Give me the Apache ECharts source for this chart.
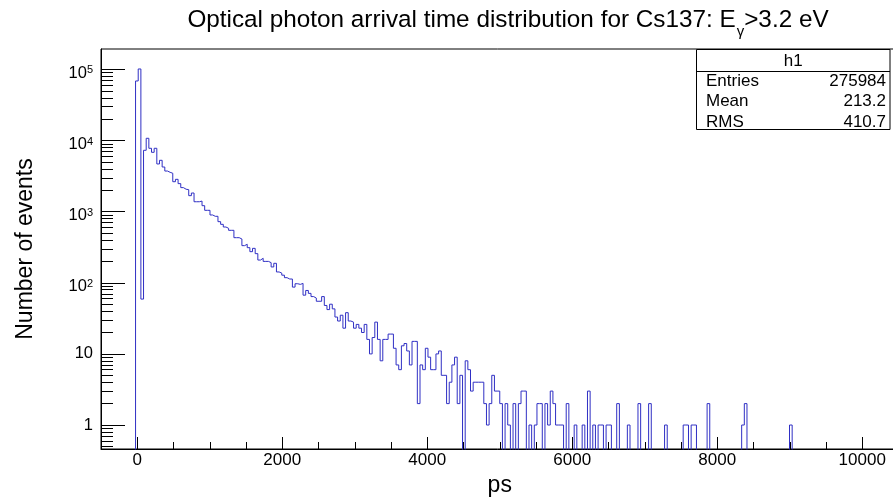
<!DOCTYPE html>
<html><head><meta charset="utf-8">
<script src="https://cdn.jsdelivr.net/npm/echarts@6/dist/echarts.min.js"></script>
<style>html,body{margin:0;padding:0;background:#fff}#c{width:893px;height:499px}</style>
</head><body><div id="c"></div>
<script>
// Histogram definition (ROOT TH1: 300 bins over [-500, 10500] ps)
const histMin = -500, histMax = 10500, nBins = 300;
const firstBin = 13;           // index of first bin listed in counts
const counts = [
 68900,101600,59,7300,10770,7790,6840,7790,4690,5280,
 4250,3730,3580,3470,2640,2850,2480,2180,2070,2040,
 1680,1830,1380,1380,1410,1215,1045,1045,899,861,
 861,724,664,609,584,547,547,431,431,413,
 333,348,312,274,305,257,209,221,200,200,
 192,167,188,142,137,128,118,113,113,87,
 97,95,98,67,78,71,64,61,55,55,
 64,48,42,50,43,33,29,35,23,38,
 29,28,23,26,23,20,26,16,10,17,
 28,16,8,16,16,19,19,12,7,6,
 13,14,11,7,15,15,2,7,6,12,
 9,6,6,10,11,5,5,2,4,7,
 9,2,5,0,8,6,3,4,4,4,
 4,2,1,2,5,3,3,2,0,2,
 1,0,2,0,2,3,3,0,1,0,
 1,2,2,0,2,1,3,2,1,1,
 1,0,2,0,0,1,0,0,1,0,
 3,0,1,0,1,1,0,1,1,0,
 0,2,0,0,0,1,0,0,0,2,
 0,0,0,2,0,0,0,0,0,1,
 0,0,0,0,0,0,1,1,0,1,
 1,0,0,0,0,2,0,0,0,0,
 0,0,0,0,0,0,0,0,1,2,
 0,0,0,0,0,0,0,0,0,0,
 0,0,0,0,0,0,1
];
const xMajorTicks = [0,2000,4000,6000,8000,10000];
const xMinorTicks = [500,1000,1500,2500,3000,3500,4500,5000,5500,6500,7000,7500,8500,9000,9500];
const yMin = 0.46, yMax = 194000;
const yMajorTicks = [1,10,100,1000,10000,100000];
const yMinorTicks = [];
[0.1,1,10,100,1000,10000].forEach(d => { for (let k=2;k<=9;k++){ const v=+(k*d).toPrecision(3); if (v>yMin && v<yMax) yMinorTicks.push(v);} });
const titleMain = 'Optical photon arrival time distribution for Cs137: E';
const titleSub = 'γ';
const titleEnd = '>3.2 eV';
const xTitle = 'ps', yTitle = 'Number of events';
const statsName = 'h1';
const statsLabels = ['Entries','Mean','RMS'];
const statsValues = ['275984','213.2','410.7'];

const FF = '"Liberation Sans", Arial, Helvetica, sans-serif';
const binW = (histMax - histMin) / nBins;
const zeroLevel = yMin / 10;
const pts = [[histMin + firstBin*binW, zeroLevel]];
counts.forEach((c,i) => pts.push([histMin + (firstBin+i)*binW, c > 0 ? c : zeroLevel]));
pts.push([histMin + (firstBin+counts.length)*binW, zeroLevel]);

const chart = echarts.init(document.getElementById('c'), null, {renderer:'canvas'});
const gridL = 101, gridT = 49, gridB = 449, pxPerPs = 0.0725;
const gridRightEdge = gridL + (histMax - histMin) * pxPerPs;

const statsX = 696.5, statsY = 49.5, statsW = 193.5, statsH = 80;
const graphic = [
  {type:'text', x: 508, y: 20, z: 10, style:{
    text: '{t|'+titleMain+'}{g|'+titleSub+'}{t|'+titleEnd+'}',
    align:'center', verticalAlign:'middle', fill:'#000',
    rich:{ t:{fontSize:24.3, fontFamily:FF, fill:'#000'}, g:{fontSize:15, fontFamily:FF, fill:'#000', padding:[24,0,0,1]} }
  }},
  {type:'rect', z: 50, shape:{x:statsX, y:statsY, width:statsW, height:statsH}, style:{fill:'#fff', stroke:'#000', lineWidth:1}},
  {type:'line', z: 51, shape:{x1:statsX, y1:71.5, x2:statsX+statsW, y2:71.5}, style:{stroke:'#000', lineWidth:1}},
  {type:'text', z: 52, x: statsX + statsW/2, y: 61, style:{text: statsName, align:'center', verticalAlign:'middle', fontSize:17, fontFamily:FF, fill:'#000'}}
];
statsLabels.forEach((l,i) => {
  graphic.push({type:'text', z:52, x: 706, y: 81 + i*20.5, style:{text:l, align:'left', verticalAlign:'middle', fontSize:17, fontFamily:FF, fill:'#000'}});
  graphic.push({type:'text', z:52, x: 886, y: 81 + i*20.5, style:{text:statsValues[i], align:'right', verticalAlign:'middle', fontSize:17, fontFamily:FF, fill:'#000'}});
});

chart.setOption({
  animation: false,
  backgroundColor: '#fff',
  grid: {left: gridL, top: gridT, bottom: 499 - gridB, right: 893 - gridRightEdge, show: true, borderColor:'#000', borderWidth:1, containLabel:false, outerBoundsMode:'none'},
  xAxis: [
    {type:'value', min: histMin, max: histMax, position:'bottom',
     name: xTitle, nameLocation:'middle', nameGap: 25, nameTextStyle:{fontSize:23, fontFamily:FF, color:'#000'},
     axisLine:{show:true, onZero:false, lineStyle:{color:'#000', width:1}},
     axisTick:{show:true, inside:true, length:12, customValues: xMajorTicks, lineStyle:{color:'#000'}},
     axisLabel:{show:true, customValues: xMajorTicks, margin: 3, fontSize:17, fontFamily:FF, color:'#000', formatter: v => String(v)},
     splitLine:{show:false}},
    {type:'value', min: histMin, max: histMax, position:'bottom',
     axisLine:{show:false, onZero:false}, axisLabel:{show:false}, splitLine:{show:false},
     axisTick:{show:true, inside:true, length:7, customValues: xMinorTicks, lineStyle:{color:'#000'}}}
  ],
  yAxis: [
    {type:'log', logBase:10, min: yMin, max: yMax, position:'left',
     name: yTitle, nameLocation:'middle', nameGap: 64, nameRotate: 90, nameTextStyle:{fontSize:23, fontFamily:FF, color:'#000'},
     axisLine:{show:true, onZero:false, lineStyle:{color:'#000', width:1}},
     axisTick:{show:true, inside:true, length:24, customValues: yMajorTicks, lineStyle:{color:'#000'}},
     axisLabel:{show:true, customValues: yMajorTicks, margin: 8, fontSize:16.5, fontFamily:FF, color:'#000',
       formatter: v => { const e = Math.round(Math.log10(v)); if (e===0) return '1'; if (e===1) return '10'; return '{b|10}{s|'+e+'}'; },
       rich:{ b:{fontSize:16.5, fontFamily:FF, color:'#000', padding:[7,0,0,0]}, s:{fontSize:11, fontFamily:FF, color:'#000', padding:[2,0,0,0]} }},
     splitLine:{show:false}},
    {type:'log', logBase:10, min: yMin, max: yMax, position:'left',
     axisLine:{show:false, onZero:false}, axisLabel:{show:false}, splitLine:{show:false},
     axisTick:{show:true, inside:true, length:12, customValues: yMinorTicks, lineStyle:{color:'#000'}}}
  ],
  series: [{
    type:'line', xAxisIndex:0, yAxisIndex:0, data: pts, step:'end',
    showSymbol:false, symbol:'none', clip:true,
    lineStyle:{color:'#2f2fc4', width:1}
  }],
  graphic: graphic
});
</script></body></html>
